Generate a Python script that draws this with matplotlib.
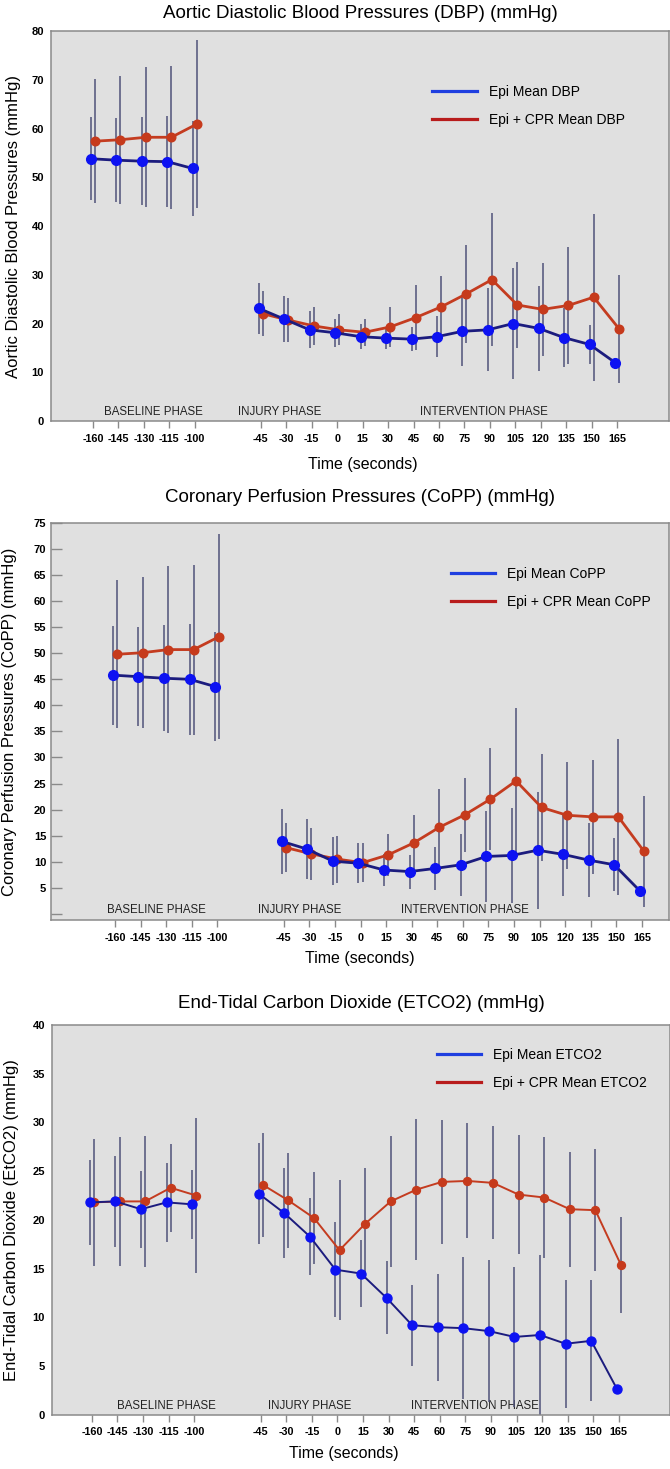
import numpy as np
import matplotlib
matplotlib.use('Agg')
import matplotlib.pyplot as plt
from matplotlib.lines import Line2D

plt.rcParams['font.family'] = ['Liberation Sans', 'DejaVu Sans']
NARROW = ['Liberation Sans Narrow', 'Liberation Sans', 'DejaVu Sans']

# 時間軸 (秒) ---------------------------------
base_t = [-160, -145, -130, -115, -100]
int_t = [-45, -30, -15, 0, 15, 30, 45, 60, 75, 90, 105, 120, 135, 150, 165]

# DBP ------------------------------------------
epi_dbp_base = [53.8, 53.5, 53.3, 53.2, 51.8]
epi_dbp_base_sd = [8.5, 8.6, 9.0, 9.4, 9.7]
cpr_dbp_base = [57.4, 57.7, 58.2, 58.2, 60.9]
cpr_dbp_base_sd = [12.7, 13.1, 14.4, 14.7, 17.2]
epi_dbp_int = [23.1, 20.9, 18.7, 18.1, 17.3, 17.0, 16.8, 17.3, 18.4, 18.7, 20.0, 19.0, 17.1, 15.7, 12.0]
epi_dbp_int_sd = [5.2, 4.75, 3.8, 2.9, 2.5, 2.2, 2.4, 4.2, 7.1, 8.5, 11.3, 8.75, 6.05, 4.0, 0]
cpr_dbp_int = [22.0, 20.7, 19.5, 18.7, 18.2, 19.3, 21.2, 23.4, 26.1, 29.0, 23.8, 22.9, 23.7, 25.4, 18.9]
cpr_dbp_int_sd = [4.6, 4.5, 3.95, 3.2, 2.8, 4.1, 6.6, 6.3, 10.0, 13.6, 8.85, 9.5, 12.0, 17.1, 11.0]

# CoPP -----------------------------------------
epi_copp_base = [45.8, 45.5, 45.2, 45.0, 43.6]
epi_copp_base_sd = [9.5, 9.5, 10.2, 10.7, 10.5]
cpr_copp_base = [49.8, 50.1, 50.7, 50.7, 53.2]
cpr_copp_base_sd = [14.2, 14.5, 16.0, 16.3, 19.7]
epi_copp_int = [13.9, 12.4, 10.1, 9.7, 8.4, 8.1, 8.7, 9.4, 11.0, 11.2, 12.2, 11.4, 10.3, 9.4, 4.4]
epi_copp_int_sd = [6.3, 5.7, 4.55, 3.85, 3.1, 3.25, 4.2, 6.0, 8.75, 9.15, 11.25, 7.9, 7.05, 5.1, 0]
cpr_copp_int = [12.7, 11.5, 10.5, 9.8, 11.3, 13.6, 16.6, 19.0, 22.0, 25.5, 20.4, 18.9, 18.6, 18.6, 12.0]
cpr_copp_int_sd = [4.75, 5.0, 4.5, 3.7, 4.05, 5.4, 7.4, 7.05, 9.8, 14.0, 10.3, 10.25, 10.95, 15.0, 10.65]

# ETCO2 ----------------------------------------
epi_co2_base = [21.8, 21.9, 21.1, 21.8, 21.6]
epi_co2_base_sd = [4.35, 4.65, 3.95, 4.05, 3.55]
cpr_co2_base = [21.8, 21.9, 21.9, 23.3, 22.5]
cpr_co2_base_sd = [6.5, 6.6, 6.7, 4.5, 7.95]
epi_co2_int = [22.7, 20.7, 18.3, 14.9, 14.5, 12.0, 9.2, 9.0, 8.9, 8.6, 8.0, 8.2, 7.3, 7.6, 2.7]
epi_co2_int_sd = [5.15, 4.65, 3.95, 4.85, 3.45, 3.75, 4.15, 5.5, 7.25, 7.3, 7.2, 8.2, 6.55, 6.2, 0]
cpr_co2_int = [23.6, 22.0, 20.2, 16.9, 19.6, 21.9, 23.1, 23.9, 24.0, 23.8, 22.6, 22.3, 21.1, 21.0, 15.4]
cpr_co2_int_sd = [5.35, 4.9, 4.7, 7.2, 5.7, 6.75, 7.25, 6.35, 5.9, 5.8, 6.1, 6.25, 5.9, 6.25, 4.95]

phases = ['BASELINE PHASE', 'INJURY PHASE', 'INTERVENTION PHASE']

# 色 -------------------------------------------
BG = '#e0e0e0'
SPINE = '#8a8a8a'
ERR = '#50537a'
BLUE_LINE = '#1c1c7e'
BLUE_DOT = '#0d12f2'
RED_LINE = '#c43c20'
RED_DOT = '#c63a1c'

base_pos = np.arange(len(base_t))
int_pos = np.arange(len(int_t)) + 6.6


def draw_panel(ax, epi_b, epi_b_sd, cpr_b, cpr_b_sd, epi_i, epi_i_sd, cpr_i, cpr_i_sd,
               lw, ms):
    ax.set_facecolor(BG)
    # エラーバー
    for pos, m, s, dx in [(base_pos, epi_b, epi_b_sd, -0.08), (base_pos, cpr_b, cpr_b_sd, 0.08),
                          (int_pos, epi_i, epi_i_sd, -0.08), (int_pos, cpr_i, cpr_i_sd, 0.08)]:
        m = np.array(m)
        s = np.array(s)
        ax.vlines(pos + dx, m - s, m + s, color=ERR, lw=1.1, zorder=2)
    # 平均値の線
    for pos, m in [(base_pos, cpr_b), (int_pos, cpr_i)]:
        ax.plot(pos + 0.08, m, color=RED_LINE, lw=lw, marker='o', ms=ms - 0.8,
                markerfacecolor=RED_DOT, markeredgecolor=RED_DOT, zorder=3)
    for pos, m in [(base_pos, epi_b), (int_pos, epi_i)]:
        ax.plot(pos - 0.08, m, color=BLUE_LINE, lw=lw, marker='o', ms=ms,
                markerfacecolor=BLUE_DOT, markeredgecolor=BLUE_DOT, zorder=4)
    ax.set_xticks(np.r_[base_pos, int_pos])
    ax.set_xticklabels([str(t) for t in base_t + int_t])
    for sp in ax.spines.values():
        sp.set_color(SPINE)
        sp.set_linewidth(1.1)
    ax.tick_params(axis='x', direction='out', length=5, width=1, color=SPINE, pad=4,
                   labelsize=7.8)
    for lbl in ax.get_xticklabels():
        lbl.set_fontfamily(NARROW)
        lbl.set_fontweight('bold')


def bold_yticks(ax):
    for lbl in ax.get_yticklabels():
        lbl.set_fontfamily(NARROW)
        lbl.set_fontweight('bold')


def add_legend(ax, name, fx, fy):
    h = [Line2D([0], [0], color='#1f3fe0', lw=2.3), Line2D([0], [0], color='#b81c1c', lw=2.3)]
    ax.legend(h, ['Epi Mean ' + name, 'Epi + CPR Mean ' + name], loc='upper left',
              bbox_to_anchor=(fx, fy), frameon=False, fontsize=10, handlelength=3.2,
              handletextpad=0.85, labelspacing=1.0, borderaxespad=0, borderpad=0)


def add_phases(ax, xs, y):
    for x, p in zip(xs, phases):
        ax.text(x, y, p, ha='center', va='center', fontsize=8.3, color='#222222', zorder=1)


fig = plt.figure(figsize=(6.7, 14.69), dpi=100)

# パネル1: DBP ---------------------------------
ax1 = fig.add_axes([0.0761, 0.7134, 0.9224, 0.2655])
draw_panel(ax1, epi_dbp_base, epi_dbp_base_sd, cpr_dbp_base, cpr_dbp_base_sd,
           epi_dbp_int, epi_dbp_int_sd, cpr_dbp_int, cpr_dbp_int_sd, lw=2.0, ms=7)
ax1.set_xlim(-1.65, 22.64)
ax1.set_ylim(0, 80)
ax1.set_yticks(range(0, 81, 10))
ax1.tick_params(axis='y', direction='in', length=0, pad=5, labelsize=8)
bold_yticks(ax1)
add_phases(ax1, [2.36, 7.35, 15.37], 1.85)
add_legend(ax1, 'DBP', 0.617, 0.862)
ax1.set_title('Aortic Diastolic Blood Pressures (DBP) (mmHg)', fontsize=13.5, y=1.046,
              va='center', pad=0)
ax1.set_xlabel('Time (seconds)', fontsize=11.5)
ax1.xaxis.set_label_coords(0.505, -0.092)
ax1.set_ylabel('Aortic Diastolic Blood Pressures (mmHg)', fontsize=12)
ax1.yaxis.set_label_coords(-0.0485, 0.5)

# パネル2: CoPP --------------------------------
ax2 = fig.add_axes([0.0761, 0.3737, 0.9224, 0.2703])
draw_panel(ax2, epi_copp_base, epi_copp_base_sd, cpr_copp_base, cpr_copp_base_sd,
           epi_copp_int, epi_copp_int_sd, cpr_copp_int, cpr_copp_int_sd, lw=2.0, ms=7)
ax2.set_xlim(-2.5, 21.66)
ax2.set_ylim(-1.2, 75)
ax2.set_yticks(range(0, 76, 5))
ax2.set_yticklabels([''] + [str(v) for v in range(5, 76, 5)])
ax2.tick_params(axis='y', direction='in', length=8, width=1, color=SPINE, pad=3.5, labelsize=8)
bold_yticks(ax2)
add_phases(ax2, [1.64, 7.23, 13.7], 0.77)
add_legend(ax2, 'CoPP', 0.647, 0.89)
ax2.set_title('Coronary Perfusion Pressures (CoPP) (mmHg)', fontsize=13.5, y=1.063,
              va='center', pad=0)
ax2.set_xlabel('Time (seconds)', fontsize=11.5)
ax2.xaxis.set_label_coords(0.5, -0.078)
ax2.set_ylabel('Coronary Perfusion Pressures (CoPP) (mmHg)', fontsize=12)
ax2.yaxis.set_label_coords(-0.055, 0.5)

# パネル3: ETCO2 -------------------------------
ax3 = fig.add_axes([0.0776, 0.0368, 0.9224, 0.2655])
draw_panel(ax3, epi_co2_base, epi_co2_base_sd, cpr_co2_base, cpr_co2_base_sd,
           epi_co2_int, epi_co2_int_sd, cpr_co2_int, cpr_co2_int_sd, lw=1.4, ms=6.5)
ax3.set_xlim(-1.56, 22.6)
ax3.set_ylim(0, 40)
ax3.set_yticks(range(0, 41, 5))
ax3.tick_params(axis='y', direction='in', length=0, pad=5, labelsize=8)
bold_yticks(ax3)
add_phases(ax3, [2.9, 8.5, 14.97], 0.95)
add_legend(ax3, 'ETCO2', 0.623, 0.94)
ax3.set_title('End-Tidal Carbon Dioxide (ETCO2) (mmHg)', fontsize=13.5, y=1.056,
              va='center', pad=0)
ax3.set_xlabel('Time (seconds)', fontsize=11.5)
ax3.xaxis.set_label_coords(0.472, -0.079)
ax3.set_ylabel('End-Tidal Carbon Dioxide (EtCO2) (mmHg)', fontsize=12)
ax3.yaxis.set_label_coords(-0.053, 0.5)

plt.savefig('out.png', dpi=100, facecolor='white')
